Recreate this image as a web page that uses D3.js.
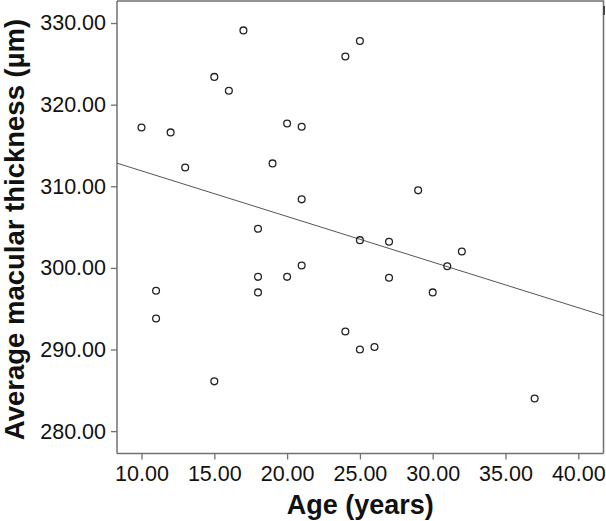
<!DOCTYPE html>
<html><head><meta charset="utf-8">
<script src="https://cdn.jsdelivr.net/npm/d3@7"></script>
<style>body{margin:0;background:#fff}svg{display:block}</style>
</head><body>
<script>
const ages = [10,11,11,12,13,15,15,16,17,18,18,18,19,20,20,21,21,21,24,24,25,25,25,26,27,27,29,30,31,32,37];
const thickness = [317.2,297.2,293.8,316.6,312.3,323.4,286.1,321.7,329.1,304.8,298.9,297.0,312.8,317.7,298.9,317.3,308.4,300.3,325.9,292.2,327.8,303.4,290.0,290.3,303.2,298.8,309.5,297.0,300.2,302.0,284.0];
const xTicks = [10,15,20,25,30,35,40];
const yTicks = [280,290,300,310,320,330];
const fitIntercept = 317.48, fitSlope = -0.559;
const xTitle = "Age (years)", yTitle = "Average macular thickness (µm)";

const W = 606, H = 521;
const L = 117, R = 603.5, T = 1, B = 453.5;
const svg = d3.select("body").append("svg").attr("width", W).attr("height", H);
const x = d3.scaleLinear().domain([8.317, 41.73]).range([L, R]);
const y = d3.scaleLinear().domain([277.26, 332.7]).range([B, T]);
const font = "'Liberation Sans', Arial, sans-serif";
const frameCol = "#707070";

// frame top/right
svg.append("path").attr("d", `M${L},${T}H${R}V${B}`).attr("fill","none").attr("stroke",frameCol).attr("stroke-width",1.5);
svg.append("rect").attr("x", R-0.5).attr("y", 6).attr("width", 2).attr("height", 9).attr("fill", "#444");

const xa = svg.append("g").attr("transform", `translate(0,${B})`)
  .call(d3.axisBottom(x).tickValues(xTicks).tickFormat(d3.format(".2f")).tickSizeOuter(0).tickSize(6).tickPadding(6));
const ya = svg.append("g").attr("transform", `translate(${L},0)`)
  .call(d3.axisLeft(y).tickValues(yTicks).tickFormat(d3.format(".2f")).tickSizeOuter(0).tickSize(6).tickPadding(5));
[xa, ya].forEach(g => {
  g.select(".domain").attr("stroke", frameCol).attr("stroke-width", 1.5);
  g.selectAll(".tick line").attr("stroke", frameCol).attr("stroke-width", 1.3);
  g.selectAll(".tick text").attr("font-family", font).attr("font-size", 21.5).attr("fill", "#111");
});
xa.select(".domain").attr("d", `M${L},0H${R}`);
ya.select(".domain").attr("d", `M0,${T}V${B}`);

// regression line
const x0 = x.domain()[0], x1 = x.domain()[1];
svg.append("line")
  .attr("x1", x(x0)).attr("y1", y(fitIntercept + fitSlope * x0))
  .attr("x2", x(x1)).attr("y2", y(fitIntercept + fitSlope * x1))
  .attr("stroke", "#555").attr("stroke-width", 1);

// points
svg.append("g").selectAll("circle").data(ages.map((a, i) => [a, thickness[i]])).join("circle")
  .attr("cx", d => x(d[0])).attr("cy", d => y(d[1])).attr("r", 3.4)
  .attr("fill", "none").attr("stroke", "#222").attr("stroke-width", 1.3);

// titles
svg.append("text").attr("x", (L + R) / 2).attr("y", 514).attr("text-anchor", "middle")
  .attr("font-family", font).attr("font-weight", "bold").attr("font-size", 27).attr("fill", "#111").text(xTitle);
svg.append("text").attr("transform", `translate(23.5,229.5) rotate(-90)`).attr("text-anchor", "middle")
  .attr("font-family", font).attr("font-weight", "bold").attr("font-size", 27.5).attr("fill", "#111").text(yTitle);
</script>
</body></html>
